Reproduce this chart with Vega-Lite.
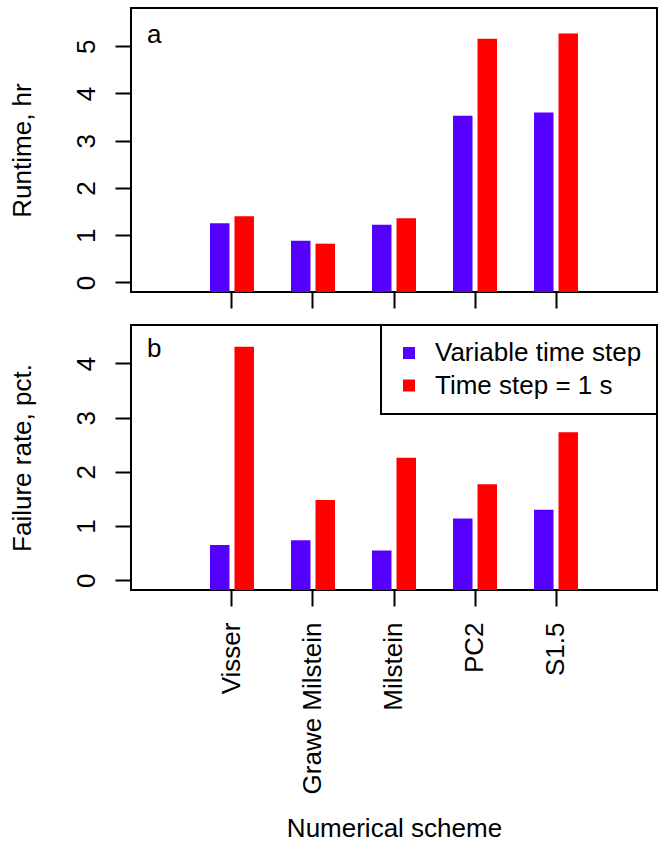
{
  "$schema": "https://vega.github.io/schema/vega-lite/v6.json",
  "background": "white",
  "padding": {"left": 7, "top": 7, "right": 2, "bottom": 2},
  "spacing": 13,
  "data": {
    "values": [
      {"scheme": "Visser", "method": "Variable time step", "runtime": 1.25, "failure": 0.65},
      {"scheme": "Visser", "method": "Time step = 1 s", "runtime": 1.40, "failure": 4.31},
      {"scheme": "Grawe Milstein", "method": "Variable time step", "runtime": 0.88, "failure": 0.74},
      {"scheme": "Grawe Milstein", "method": "Time step = 1 s", "runtime": 0.82, "failure": 1.48},
      {"scheme": "Milstein", "method": "Variable time step", "runtime": 1.22, "failure": 0.55},
      {"scheme": "Milstein", "method": "Time step = 1 s", "runtime": 1.36, "failure": 2.26},
      {"scheme": "PC2", "method": "Variable time step", "runtime": 3.53, "failure": 1.14},
      {"scheme": "PC2", "method": "Time step = 1 s", "runtime": 5.16, "failure": 1.77},
      {"scheme": "S1.5", "method": "Variable time step", "runtime": 3.60, "failure": 1.30},
      {"scheme": "S1.5", "method": "Time step = 1 s", "runtime": 5.27, "failure": 2.73}
    ]
  },
  "config": {
    "font": "Liberation Sans",
    "view": {"stroke": "black", "strokeWidth": 2},
    "axis": {
      "grid": false,
      "domain": false,
      "tickColor": "black",
      "tickWidth": 2,
      "tickSize": 16,
      "labelFont": "Liberation Sans",
      "labelFontSize": 26,
      "labelColor": "black",
      "titleFont": "Liberation Sans",
      "titleFontSize": 26,
      "titleFontWeight": "normal",
      "titleColor": "black"
    },
    "legend": {"strokeWidth": 2},
    "title": {"font": "Liberation Sans", "fontSize": 26, "fontWeight": "normal", "color": "black"}
  },
  "resolve": {"legend": {"color": "independent"}},
  "vconcat": [
    {
      "width": 526,
      "height": 284,
      "title": {"text": "a", "anchor": "start", "frame": "group", "offset": -61, "dx": 16, "baseline": "alphabetic"},
      "mark": {"type": "bar"},
      "encoding": {
        "x": {
          "field": "scheme", "type": "nominal",
          "scale": {"domain": ["Visser", "Grawe Milstein", "Milstein", "PC2", "S1.5"], "paddingInner": 0.457, "paddingOuter": 0.975},
          "axis": {"labels": false, "title": null}
        },
        "xOffset": {
          "field": "method", "type": "nominal",
          "scale": {"domain": ["Variable time step", "Time step = 1 s"], "paddingInner": 0.204}
        },
        "y": {
          "field": "runtime", "type": "quantitative",
          "scale": {"domain": [-0.203, 5.81], "nice": false, "zero": false},
          "axis": {"values": [0, 1, 2, 3, 4, 5], "title": "Runtime, hr", "labelAngle": -90, "labelAlign": "center", "labelBaseline": "alphabetic", "labelPadding": 21, "titlePadding": 38}
        },
        "y2": {"datum": -0.203},
        "color": {
          "field": "method", "type": "nominal",
          "scale": {"domain": ["Variable time step", "Time step = 1 s"], "range": ["#5500FF", "#FF0000"]},
          "legend": null
        }
      }
    },
    {
      "width": 526,
      "height": 265,
      "title": {"text": "b", "anchor": "start", "frame": "group", "offset": -59, "dx": 16, "baseline": "alphabetic"},
      "mark": {"type": "bar"},
      "encoding": {
        "x": {
          "field": "scheme", "type": "nominal",
          "scale": {"domain": ["Visser", "Grawe Milstein", "Milstein", "PC2", "S1.5"], "paddingInner": 0.457, "paddingOuter": 0.975},
          "axis": {"title": "Numerical scheme", "labelAngle": -90, "labelAlign": "right", "labelBaseline": "middle", "labelPadding": 16, "titlePadding": 25, "labelOverlap": false, "labelLimit": 400}
        },
        "xOffset": {
          "field": "method", "type": "nominal",
          "scale": {"domain": ["Variable time step", "Time step = 1 s"], "paddingInner": 0.204}
        },
        "y": {
          "field": "failure", "type": "quantitative",
          "scale": {"domain": [-0.18, 4.71], "nice": false, "zero": false},
          "axis": {"values": [0, 1, 2, 3, 4], "title": "Failure rate, pct.", "labelAngle": -90, "labelAlign": "center", "labelBaseline": "alphabetic", "labelPadding": 21, "titlePadding": 38}
        },
        "y2": {"datum": -0.18},
        "color": {
          "field": "method", "type": "nominal",
          "scale": {"domain": ["Variable time step", "Time step = 1 s"], "range": ["#5500FF", "#FF0000"]},
          "legend": {
            "orient": "top-right", "offset": 0, "title": null,
            "strokeColor": "black", "fillColor": "white", "padding": 15,
            "symbolType": "square", "symbolSize": 144, "symbolStrokeWidth": 0, "symbolOpacity": 1,
            "labelFontSize": 26, "labelFont": "Liberation Sans", "labelColor": "black",
            "labelOffset": 13, "labelLimit": 400, "rowPadding": 6.5
          }
        }
      }
    }
  ]
}
